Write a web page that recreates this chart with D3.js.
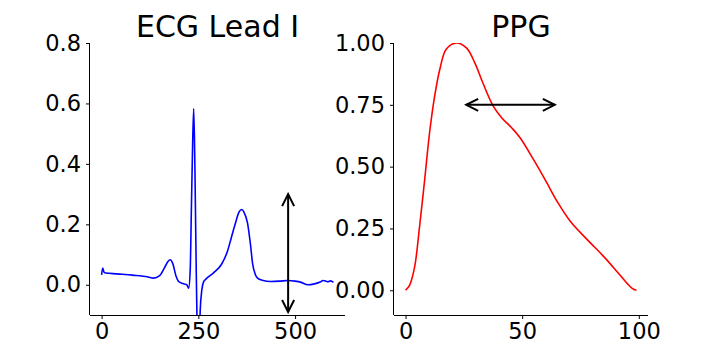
<!DOCTYPE html>
<html>
<head>
<meta charset="utf-8">
<script src="https://cdn.jsdelivr.net/npm/d3@7"></script>
<style>
  body { margin: 0; background: #fff; }
  svg { font-family: "DejaVu Sans", sans-serif; }
</style>
</head>
<body>
<div id="chart"></div>
<script>
// ECG lead I, sample index vs amplitude
var ecgX = [0, 3, 6, 10, 40, 80, 120, 134, 150, 162, 172, 177, 184, 192, 199, 210, 220, 225, 229, 232, 235, 238, 241, 244, 247, 249, 252, 255, 259, 264, 268, 272, 290, 310, 325, 335, 345, 355, 362, 368, 377, 385, 390, 397, 403, 415, 437, 460, 481, 500, 516, 533, 550, 565, 572, 580, 585, 592, 599];
var ecgY = [0.033, 0.055, 0.042, 0.039, 0.036, 0.032, 0.026, 0.022, 0.03, 0.055, 0.078, 0.083, 0.07, 0.03, 0.011, 0.004, 0.0, -0.011, 0.05, 0.25, 0.45, 0.583, 0.4, 0.1, -0.15, -0.2, -0.19, -0.08, -0.017, 0.011, 0.017, 0.022, 0.04, 0.068, 0.11, 0.155, 0.2, 0.24, 0.249, 0.24, 0.205, 0.13, 0.072, 0.035, 0.022, 0.015, 0.011, 0.012, 0.014, 0.012, 0.008, 0.0, 0.003, 0.009, 0.014, 0.012, 0.01, 0.013, 0.008];

// PPG pulse, sample index vs normalised amplitude
var ppgX = [0, 1.7, 3.9, 6.0, 8.2, 10.3, 12.5, 14.7, 17.5, 21.9, 26.1, 29.7, 33.3, 37.6, 41.2, 45.5, 49.1, 54.9, 60.6, 65.0, 70.7, 77.9, 85.1, 90.8, 95.1, 97.3, 99];
var ppgY = [0, 0.02, 0.095, 0.257, 0.447, 0.637, 0.786, 0.894, 0.976, 1.0, 0.98, 0.92, 0.835, 0.745, 0.698, 0.657, 0.617, 0.528, 0.434, 0.359, 0.278, 0.205, 0.135, 0.074, 0.027, 0.007, 0];

var ecgTicksX = [0, 250, 500];
var ecgTicksY = [0.0, 0.2, 0.4, 0.6, 0.8];
var ppgTicksX = [0, 50, 100];
var ppgTicksY = [0.0, 0.25, 0.5, 0.75, 1.0];

// annotation arrows
var ecgArrow = {x: 482, y0: 0.3, y1: -0.09};
var ppgArrow = {y: 0.75, x0: 26, x1: 64};

var W = 720, H = 360;
var svg = d3.select("#chart").append("svg")
    .attr("width", W).attr("height", H);

var defs = svg.append("defs");
defs.append("marker")
    .attr("id", "head")
    .attr("viewBox", "-14 -8 16 16")
    .attr("refX", 0).attr("refY", 0)
    .attr("markerWidth", 16).attr("markerHeight", 16)
    .attr("markerUnits", "userSpaceOnUse")
    .attr("orient", "auto-start-reverse")
    .append("path")
    .attr("d", "M-12,-6L0,0L-12,6")
    .attr("fill", "none")
    .attr("stroke", "#000")
    .attr("stroke-width", 2);

function panel(opt) {
    var x = d3.scaleLinear().domain(opt.xdom).range([opt.left, opt.right]);
    var y = d3.scaleLinear().domain([-0.1, opt.ytop]).range([315, 43]);

    var g = svg.append("g");

    g.append("clipPath").attr("id", opt.id + "clip")
        .append("rect")
        .attr("x", opt.left).attr("y", 43)
        .attr("width", opt.right - opt.left).attr("height", 315 - 43);

    var xAxis = g.append("g")
        .attr("transform", "translate(0,315)")
        .call(d3.axisBottom(x).tickValues(opt.tx).tickSize(4).tickPadding(4).tickFormat(d3.format("d")));
    var yAxis = g.append("g")
        .attr("transform", "translate(" + opt.left + ",0)")
        .call(d3.axisLeft(y).tickValues(opt.ty).tickSize(4).tickPadding(5).tickFormat(d3.format(opt.yfmt)));

    [xAxis, yAxis].forEach(function(a) {
        a.attr("font-family", "DejaVu Sans, sans-serif").attr("font-size", 22.5);
        a.selectAll("text").attr("fill", "#000");
        a.selectAll("line").attr("stroke", "#000");
        a.select(".domain").attr("stroke", "#000");
    });
    // matplotlib style spines (no end caps)
    xAxis.select(".domain").attr("d", "M" + opt.left + ",0.5H" + opt.right);
    yAxis.select(".domain").attr("d", "M-0.5,315V43");

    var line = d3.line()
        .x(function(d) { return x(d[0]); })
        .y(function(d) { return y(d[1]); })
        .curve(opt.curve);

    g.append("path")
        .attr("clip-path", "url(#" + opt.id + "clip)")
        .attr("d", line(d3.zip(opt.xs, opt.ys)))
        .attr("fill", "none")
        .attr("stroke", opt.color)
        .attr("stroke-width", 1.6);

    g.append("text")
        .attr("x", (opt.left + opt.right) / 2)
        .attr("y", 37)
        .attr("text-anchor", "middle")
        .style("font-size", "30px")
        .text(opt.title);

    return {g: g, x: x, y: y};
}

var ecg = panel({
    id: "ecg", left: 90, right: 345, xdom: [-30, 629], ytop: 0.8,
    tx: ecgTicksX, ty: ecgTicksY, yfmt: ".1f", curve: d3.curveMonotoneX,
    xs: ecgX, ys: ecgY, color: "#0000ff", title: "ECG Lead I"
});

var ppg = panel({
    id: "ppg", left: 394, right: 648, xdom: [-4.95, 103.95], ytop: 1.0,
    tx: ppgTicksX, ty: ppgTicksY, yfmt: ".2f", curve: d3.curveCatmullRom,
    xs: ppgX, ys: ppgY, color: "#ff0000", title: "PPG"
});

ecg.g.append("line")
    .attr("x1", ecg.x(ecgArrow.x)).attr("x2", ecg.x(ecgArrow.x))
    .attr("y1", ecg.y(ecgArrow.y0)).attr("y2", ecg.y(ecgArrow.y1))
    .attr("stroke", "#000").attr("stroke-width", 2)
    .attr("marker-start", "url(#head)").attr("marker-end", "url(#head)");

ppg.g.append("line")
    .attr("x1", ppg.x(ppgArrow.x0)).attr("x2", ppg.x(ppgArrow.x1))
    .attr("y1", ppg.y(ppgArrow.y)).attr("y2", ppg.y(ppgArrow.y))
    .attr("stroke", "#000").attr("stroke-width", 2)
    .attr("marker-start", "url(#head)").attr("marker-end", "url(#head)");
</script>
</body>
</html>
